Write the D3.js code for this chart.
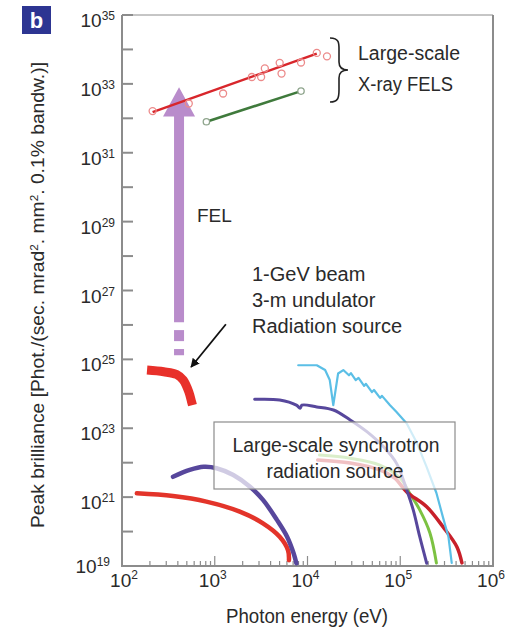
<!DOCTYPE html>
<html>
<head>
<meta charset="utf-8">
<script src="https://cdn.jsdelivr.net/npm/d3@7"></script>
<style>
  body { margin: 0; background: #fff; }
  svg text { font-family: "Liberation Sans Narrow", "Arial Narrow", "Liberation Sans", sans-serif; fill: #2a2a2a; }
</style>
</head>
<body>
<div id="chart"></div>
<script>
// values are log10(photon energy / eV), log10(peak brilliance)
var xTickExps = [2, 3, 4, 5, 6];
var yTickExps = [19, 21, 23, 25, 27, 29, 31, 33, 35];

var felPoints = [[2.33, 32.21], [2.72, 32.43], [3.09, 32.72], [3.40, 33.20], [3.50, 33.20],
                 [3.54, 33.45], [3.70, 33.61], [3.72, 33.30], [3.93, 33.62], [4.10, 33.90], [4.21, 33.80]];
var felFitRed = [[2.33, 32.18], [4.10, 33.88]];
var felGreen = [[2.91, 31.90], [3.93, 32.79]];

var gevSource = [[2.27, 24.69], [2.45, 24.64], [2.59, 24.56], [2.66, 24.40], [2.72, 24.06], [2.75, 23.77], [2.76, 23.67]];

var synRedLow = [[2.16, 21.11], [2.55, 21.03], [2.91, 20.87], [3.27, 20.58], [3.52, 20.24], [3.70, 19.85], [3.79, 19.46], [3.80, 19.17]];
var synBlueLow = [[2.55, 21.59], [2.73, 21.79], [2.88, 21.88], [3.02, 21.84], [3.20, 21.64], [3.38, 21.30], [3.52, 20.92],
                  [3.67, 20.34], [3.78, 19.85], [3.85, 19.37], [3.88, 19.08]];
var synPurple = [[3.43, 23.84], [3.70, 23.82], [3.88, 23.67], [3.92, 23.58], [3.94, 23.67], [4.10, 23.62], [4.28, 23.53],
                 [4.46, 23.24], [4.64, 22.90], [4.82, 22.46], [4.96, 21.98], [5.07, 21.21], [5.14, 20.63], [5.21, 19.85], [5.285, 19.08]];
var synGreen = [[4.13, 22.22], [4.46, 22.13], [4.78, 21.93], [5.00, 21.55], [5.10, 21.12], [5.21, 20.63], [5.32, 19.96], [5.39, 19.09]];
var synRedHigh = [[4.11, 22.08], [4.46, 21.99], [4.78, 21.79], [4.94, 21.55], [5.07, 21.15], [5.285, 20.72], [5.46, 20.14], [5.61, 19.56], [5.665, 19.09]];
var synCyan = [[3.90, 24.83], [4.10, 24.83], [4.19, 24.69], [4.24, 24.40], [4.278, 23.67], [4.33, 24.59], [4.386, 24.69],
               [4.447, 24.54], [4.468, 24.60], [4.52, 24.40], [4.55, 24.46], [4.61, 24.23], [4.63, 24.29], [4.695, 24.05],
               [4.717, 24.11], [4.782, 23.88], [4.803, 23.94], [4.89, 23.67], [4.96, 23.47], [5.07, 23.14], [5.18, 22.57],
               [5.285, 21.87], [5.39, 21.12], [5.46, 20.42], [5.52, 19.84], [5.555, 19.09]];

// FEL arrow: x, tip, head base, shaft end, dash pieces (exponents)
var felArrow = {x: 2.615, tip: 32.9, head: 32.05, shaftEnd: 26.08, dashes: [[25.85, 25.53], [25.30, 25.12]]};
var pointerArrow = [[3.12, 26.02], [2.745, 24.78]];

var width = 509, height = 635;
var x = d3.scaleLog().domain([1e2, 1e6]).range([122, 493]);
var y = d3.scaleLog().domain([1e19, 1e35]).range([566, 15]);
var X = function(e) { return x(Math.pow(10, e)); };
var Y = function(e) { return y(Math.pow(10, e)); };

var svg = d3.select("#chart").append("svg")
    .attr("width", width).attr("height", height);

var axisColor = "#8c8c8c";

// frame
svg.append("line").attr("x1", 122).attr("x2", 493).attr("y1", 15).attr("y2", 15)
  .attr("stroke", axisColor).attr("stroke-width", 1);
svg.append("line").attr("x1", 493).attr("x2", 493).attr("y1", 15).attr("y2", 566)
  .attr("stroke", axisColor).attr("stroke-width", 2);

// y axis: tick every decade, inward
var yAll = d3.range(19, 36);
svg.append("g").selectAll("line").data(yAll).enter().append("line")
  .attr("x1", 122).attr("x2", 133)
  .attr("y1", function(d) { return Y(d); }).attr("y2", function(d) { return Y(d); })
  .attr("stroke", axisColor).attr("stroke-width", 2);
svg.append("line").attr("x1", 122).attr("x2", 122).attr("y1", 15).attr("y2", 567)
  .attr("stroke", axisColor).attr("stroke-width", 2);

var yLab = svg.append("g").selectAll("text").data(yTickExps).enter().append("text")
  .attr("x", function(d) { return d === 19 ? 110 : 115; }).attr("text-anchor", "end")
  .attr("y", function(d) { return Y(d) + (d === 19 ? 7 : 12); })
  .style("font-size", "19px");
yLab.append("tspan").text("10");
yLab.append("tspan").attr("dy", -7).style("font-size", "12px").text(function(d) { return d; });

// x axis: minor ticks inward
var xMinor = [];
for (var dec = 2; dec < 6; dec++) {
  for (var m = 2; m <= 9; m++) xMinor.push(Math.log10(m) + dec);
}
svg.append("g").selectAll("line").data(xMinor).enter().append("line")
  .attr("x1", function(d) { return X(d); }).attr("x2", function(d) { return X(d); })
  .attr("y1", 566).attr("y2", 561)
  .attr("stroke", axisColor).attr("stroke-width", 1.2);
svg.append("g").selectAll("line").data(xTickExps).enter().append("line")
  .attr("x1", function(d) { return X(d); }).attr("x2", function(d) { return X(d); })
  .attr("y1", 566).attr("y2", 556)
  .attr("stroke", axisColor).attr("stroke-width", 1.2);
svg.append("line").attr("x1", 121).attr("x2", 494).attr("y1", 566).attr("y2", 566)
  .attr("stroke", axisColor).attr("stroke-width", 2);

var xLab = svg.append("g").selectAll("text").data(xTickExps).enter().append("text")
  .attr("x", function(d) { return d === 2 ? X(d) + 2 : X(d) - 2; }).attr("y", 587)
  .attr("text-anchor", "middle")
  .style("font-size", "19px");
xLab.append("tspan").text("10");
xLab.append("tspan").attr("dy", -8).style("font-size", "12px").text(function(d) { return d; });

// axis titles
svg.append("text").attr("x", 307).attr("y", 623).attr("text-anchor", "middle")
  .attr("textLength", 162).attr("lengthAdjust", "spacingAndGlyphs")
  .style("font-size", "20px").text("Photon energy (eV)");

var yt = svg.append("text").attr("transform", "translate(44,295) rotate(-90)")
  .attr("text-anchor", "middle").style("font-size", "18px")
  .attr("textLength", 466).attr("lengthAdjust", "spacingAndGlyphs");
yt.append("tspan").text("Peak brilliance [Phot./(sec. mrad");
yt.append("tspan").attr("dy", -6).style("font-size", "11px").text("2");
yt.append("tspan").attr("dy", 6).text(". mm");
yt.append("tspan").attr("dy", -6).style("font-size", "11px").text("2");
yt.append("tspan").attr("dy", 6).text(". 0.1% bandw.)]");

// curves
var lineSmooth = d3.line().x(function(d) { return X(d[0]); }).y(function(d) { return Y(d[1]); })
  .curve(d3.curveCatmullRom.alpha(0.5));
var lineStraight = d3.line().x(function(d) { return X(d[0]); }).y(function(d) { return Y(d[1]); });

var curves = [
  {data: synRedLow, color: "#e3342a", w: 4.5, smooth: true},
  {data: synBlueLow, color: "#57479c", w: 4.5, smooth: true},
  {data: synGreen, color: "#7cc242", w: 3, smooth: true},
  {data: synRedHigh, color: "#c8202a", w: 3.5, smooth: true},
  {data: synPurple, color: "#57479c", w: 3, smooth: true},
  {data: synCyan, color: "#5bbfe6", w: 2.2, smooth: false}
];
svg.append("g").selectAll("path").data(curves).enter().append("path")
  .attr("d", function(d) { return (d.smooth ? lineSmooth : lineStraight)(d.data); })
  .attr("fill", "none").attr("stroke", function(d) { return d.color; })
  .attr("stroke-width", function(d) { return d.w; })
  .attr("stroke-linecap", "round").attr("stroke-linejoin", "round");

// 1-GeV source
svg.append("path").attr("d", lineSmooth(gevSource))
  .attr("fill", "none").attr("stroke", "#e8302a").attr("stroke-width", 9)
  .attr("stroke-linejoin", "round");

// synchrotron box (semi-opaque, fades the curves behind it)
svg.append("rect").attr("x", 214).attr("y", 422).attr("width", 241).attr("height", 67)
  .attr("fill", "#fff").attr("fill-opacity", 0.72)
  .attr("stroke", "#8c8c8c").attr("stroke-width", 1.2);
svg.append("text").attr("x", 336).attr("y", 452).attr("text-anchor", "middle")
  .attr("textLength", 207).attr("lengthAdjust", "spacingAndGlyphs")
  .style("font-size", "20px").text("Large-scale synchrotron");
svg.append("text").attr("x", 335).attr("y", 478).attr("text-anchor", "middle")
  .attr("textLength", 137).attr("lengthAdjust", "spacingAndGlyphs")
  .style("font-size", "20px").text("radiation source");

// FEL arrow
var ax = X(felArrow.x);
svg.append("path")
  .attr("d", "M" + ax + "," + Y(felArrow.tip) + "L" + (ax + 16) + "," + Y(felArrow.head) +
    "L" + (ax + 5) + "," + Y(felArrow.head) + "L" + (ax + 5) + "," + Y(felArrow.shaftEnd) +
    "L" + (ax - 5) + "," + Y(felArrow.shaftEnd) + "L" + (ax - 5) + "," + Y(felArrow.head) +
    "L" + (ax - 16) + "," + Y(felArrow.head) + "Z")
  .attr("fill", "#b98ccb");
svg.append("g").selectAll("rect").data(felArrow.dashes).enter().append("rect")
  .attr("x", ax - 5).attr("width", 10)
  .attr("y", function(d) { return Y(d[0]); })
  .attr("height", function(d) { return Y(d[1]) - Y(d[0]); })
  .attr("fill", "#b98ccb");

// FEL lines and points
svg.append("path").attr("d", lineStraight(felFitRed)).attr("stroke", "#d8262b")
  .attr("stroke-width", 2.5).attr("fill", "none");
svg.append("path").attr("d", lineStraight(felGreen)).attr("stroke", "#3f7a3c")
  .attr("stroke-width", 2.5).attr("fill", "none");
svg.append("g").selectAll("circle").data(felPoints).enter().append("circle")
  .attr("cx", function(d) { return X(d[0]); }).attr("cy", function(d) { return Y(d[1]); })
  .attr("r", 3.5).attr("fill", "none").attr("stroke", "#ec8a8a").attr("stroke-width", 1.3);
svg.append("g").selectAll("circle").data(felGreen).enter().append("circle")
  .attr("cx", function(d) { return X(d[0]); }).attr("cy", function(d) { return Y(d[1]); })
  .attr("r", 3.2).attr("fill", "#fff").attr("stroke", "#8fa58d").attr("stroke-width", 1.3);

// brace + labels
svg.append("path")
  .attr("d", "M330,38 C340,38 339,44 339,52 L339,62 C339,68 342,70 348,70 C342,70 339,72 339,78 L339,90 C339,98 338,102 330,102")
  .attr("fill", "none").attr("stroke", "#222").attr("stroke-width", 1.6);
svg.append("text").attr("x", 358).attr("y", 60).attr("textLength", 102).attr("lengthAdjust", "spacingAndGlyphs")
  .style("font-size", "20px").text("Large-scale");
svg.append("text").attr("x", 358).attr("y", 91).attr("textLength", 95).attr("lengthAdjust", "spacingAndGlyphs")
  .style("font-size", "20px").text("X-ray FELS");

svg.append("text").attr("x", 197).attr("y", 222).style("font-size", "19px").text("FEL");
var srcLines = ["1-GeV beam", "3-m undulator", "Radiation source"];
svg.append("g").selectAll("text").data(srcLines).enter().append("text")
  .attr("x", 252).attr("y", function(d, i) { return 281 + i * 26; })
  .style("font-size", "20px").text(function(d) { return d; });

// pointer arrow
svg.append("defs").append("marker").attr("id", "ah").attr("viewBox", "0 0 10 10")
  .attr("refX", 9).attr("refY", 5).attr("markerWidth", 5).attr("markerHeight", 5)
  .attr("orient", "auto")
  .append("path").attr("d", "M0,0L10,5L0,10Z").attr("fill", "#111");
svg.append("path").attr("d", lineStraight(pointerArrow)).attr("stroke", "#111")
  .attr("stroke-width", 1.8).attr("fill", "none").attr("marker-end", "url(#ah)");

// panel badge
svg.append("rect").attr("x", 22).attr("y", 6).attr("width", 29).attr("height", 28).attr("fill", "#2d3592");
svg.append("text").attr("x", 36.5).attr("y", 28).attr("text-anchor", "middle")
  .style("font-family", "Liberation Sans, sans-serif").style("font-weight", "bold")
  .style("font-size", "22px").style("fill", "#fff").text("b");
</script>
</body>
</html>
